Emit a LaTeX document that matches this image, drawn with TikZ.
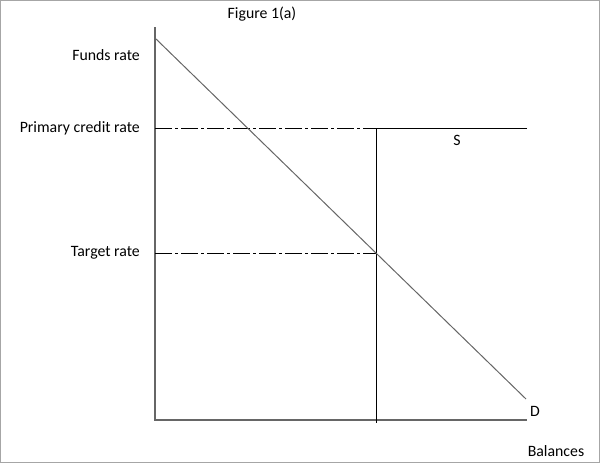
\documentclass[tikz,border=0pt]{standalone}
\usepackage{fontspec}
\setmainfont{Carlito}
\begin{document}
\begin{tikzpicture}[x=1pt, y=-1pt, font=\fontsize{15.8}{18}\selectfont]
\tikzset{axis/.style={draw=gray!80!black, line width=1.4pt},
  guide/.style={draw=black, line width=0.7pt, dash pattern=on 17pt off 3pt on 3pt off 3pt},
  lbl/.style={anchor=east, inner sep=0pt}}
\draw[gray!70, line width=0.8pt] (0.5, 0.5) rectangle (599.5, 462.5);
\useasboundingbox (0, 0) rectangle (600, 463);
\node (title) at (262, 14) {Figure 1(a)};
\coordinate (top) at (155, 27);
\coordinate (origin) at (155, 420);
\coordinate (end) at (527, 420);
\coordinate (pcr) at (155, 128);
\coordinate (tr) at (155, 253);
\coordinate (kink) at (376, 128);
\coordinate (eq) at (376, 253);
\coordinate (base) at (376, 423);
\coordinate (sEnd) at (527, 128);
\coordinate (dStart) at (155, 38);
\coordinate (dEnd) at (526, 399);
\node[lbl] (funds) at (140, 55) {Funds rate};
\node[lbl] (primary) at (140, 128) {Primary credit rate};
\node[lbl] (target) at (140, 253) {Target rate};
\node (S) at (457, 140) {S};
\node (D) at (535, 411) {D};
\node (bal) at (556, 451) {Balances};
\draw[axis] (top) -- (origin) -- (end);
\draw[guide] (pcr) -- (kink);
\draw[guide] (tr) -- (eq);
\draw[line width=0.7pt] (sEnd) -- (kink) -- (base);
\draw[gray!80!black, line width=1pt] (dStart) -- (dEnd);
\end{tikzpicture}
\end{document}
